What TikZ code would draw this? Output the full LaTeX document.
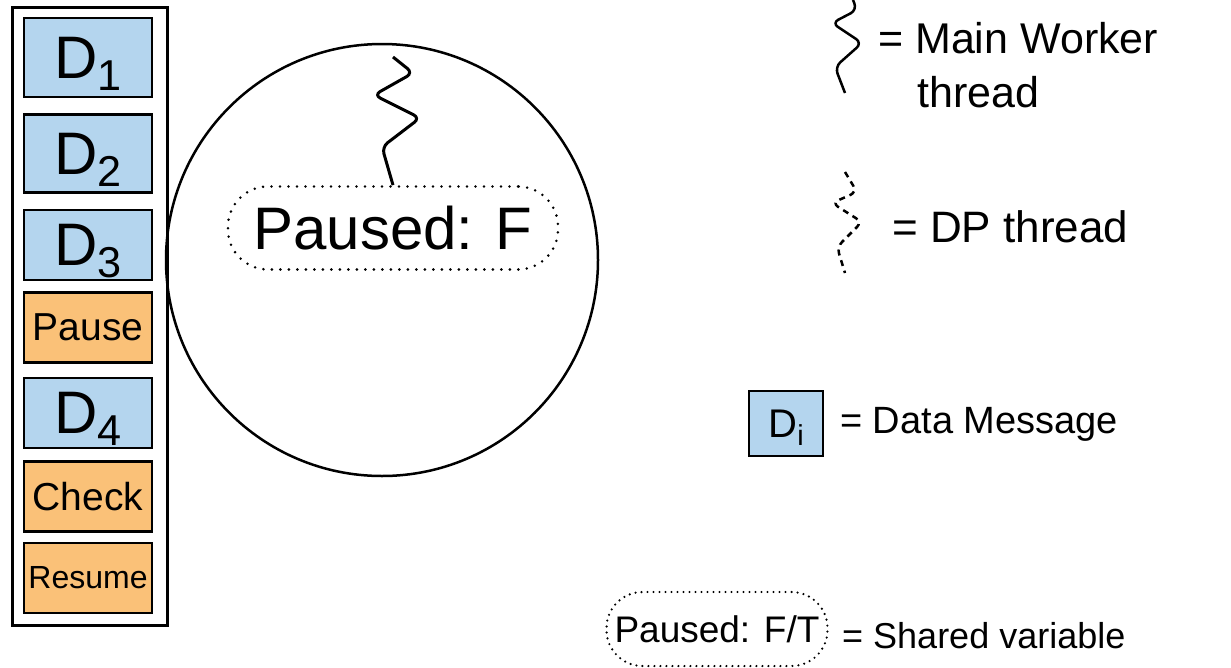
\documentclass[tikz,border=0pt]{standalone}
\usepackage{fontspec}
\setmainfont{Liberation Sans}
\usetikzlibrary{positioning}

\definecolor{msgblue}{RGB}{180,213,238}
\definecolor{ctrlorange}{RGB}{250,193,120}

% data message label with a lowered index
\newcommand{\msg}[1]{D\smash{\raisebox{-.2em}{\scalebox{.72}{#1}}}}

\begin{document}
\begin{tikzpicture}[
  x=1pt, y=-1pt,
  every node/.style={inner sep=0pt},
  datamsg/.style={rectangle, draw, line width=2.5pt, fill=msgblue,
    minimum width=128pt, minimum height=70pt, font=\fontsize{60}{64}\selectfont},
  ctrlmsg/.style={rectangle, draw, line width=2.5pt, fill=ctrlorange,
    minimum width=128pt, minimum height=70pt, font=\fontsize{39}{42}\selectfont},
  sharedvar/.style={rectangle, rounded corners=40pt, draw, fill=white, line width=2.8pt,
    dash pattern=on 0pt off 8.5pt, line cap=round},
  thread/.style={line width=3pt, rounded corners=7pt},
  legend/.style={anchor=base west}
]
\useasboundingbox (0,0) rectangle (1231,667);

% message queue
\draw[line width=3pt] (12,7) rectangle (167,625);
\node[datamsg, minimum height=79pt] (d1) at (88,57.5) {\msg{1}};
\node[datamsg, minimum height=78pt, below=15pt of d1] (d2) {\msg{2}};
\node[datamsg, below=15pt of d2] (d3) {\msg{3}};
\node[ctrlmsg, below=10pt of d3] (pause) {Pause};
\node[datamsg, below=13pt of pause] (d4) {\msg{4}};
\node[ctrlmsg, below=11pt of d4] (check) {Check};
\node[ctrlmsg, below=9pt of check, font=\fontsize{32}{36}\selectfont] (resume) {Resume};

% worker
\node[circle, draw, line width=2.5pt, minimum size=432pt] (worker) at (382,260) {};
\node[sharedvar, minimum width=330pt, minimum height=83pt,
  font=\fontsize{60}{64}\selectfont] (paused) at (393,228) {Paused: F};
\draw[thread] (paused.north) -- (382,147) -- (420,118) -- (374,95) -- (413,73) -- (393,57);

% legend
\draw[thread, line width=2.5pt] (853,0) -- (857,10) -- (832,23) -- (862,43) -- (835,67) -- (845,93);
\node[legend, font=\fontsize{43}{50}\selectfont] (mainlbl) at (878,53) {= Main Worker};
\node[legend, font=\fontsize{43}{50}\selectfont] (mainlbl2) at (917,107) {thread};

\draw[thread, line width=2.5pt, dash pattern=on 6pt off 5pt] (845,172) -- (857,192) -- (832,203) -- (862,222) -- (837,247) -- (845,273);
\node[legend, font=\fontsize{44}{50}\selectfont] (dplbl) at (892,242) {= DP thread};

\node[datamsg, minimum width=74pt, minimum height=65pt,
  font=\fontsize{40}{44}\selectfont] (dkey) at (786,423.5) {\msg{i}};
\node[legend, font=\fontsize{38}{44}\selectfont] (dlbl) at (840,433) {= Data Message};

\node[sharedvar, minimum width=221pt, minimum height=74pt, rounded corners=36pt, line width=2.4pt,
  dash pattern=on 0pt off 6pt, font=\fontsize{37}{40}\selectfont] (pkey) at (717,629) {Paused: F/T};
\node[legend, font=\fontsize{36}{40}\selectfont] (plbl) at (842,648) {= Shared variable};
\end{tikzpicture}
\end{document}
